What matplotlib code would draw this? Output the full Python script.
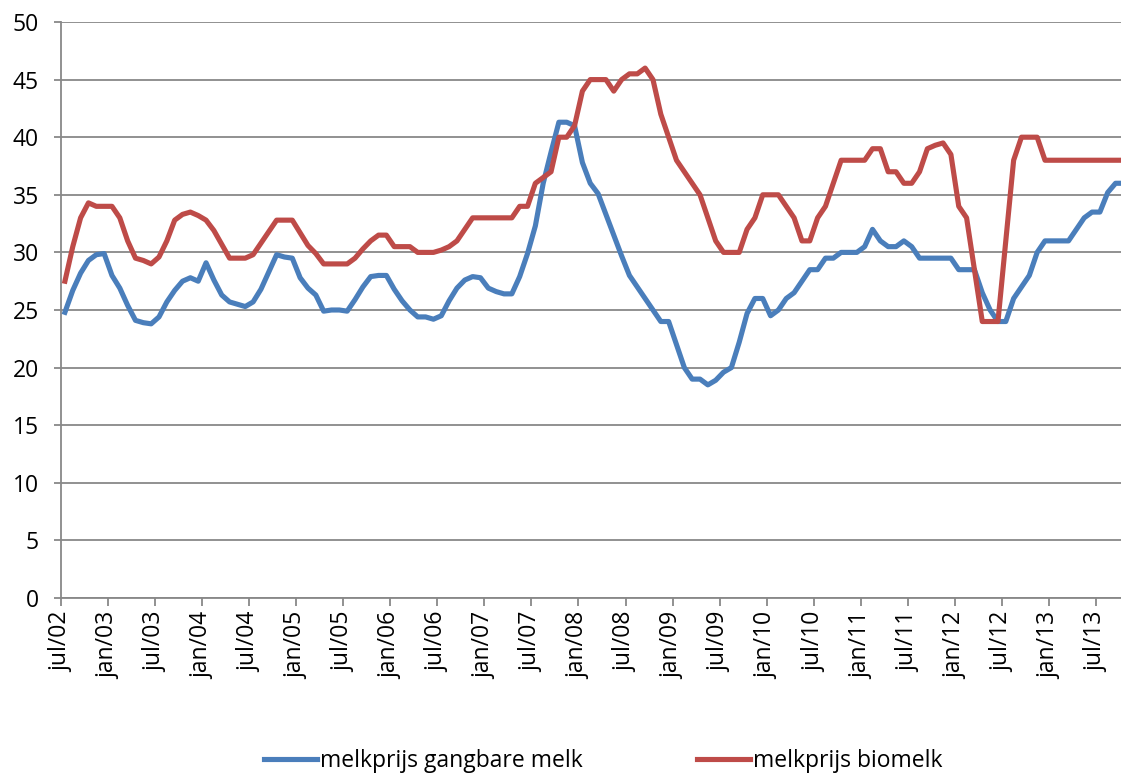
import matplotlib
matplotlib.use("Agg")
import matplotlib.pyplot as plt

plt.rcParams['font.family'] = ['Open Sans', 'DejaVu Sans']

# monthly prices, jul/02 .. oct/13
gangbaar = [24.8, 26.7, 28.2, 29.3, 29.8, 29.9, 28.0, 26.9, 25.4, 24.1,
            23.9, 23.8, 24.4, 25.7, 26.7, 27.5, 27.8, 27.5, 29.1, 27.6,
            26.3, 25.7, 25.5, 25.3, 25.7, 26.8, 28.3, 29.8, 29.6, 29.5,
            27.8, 26.9, 26.3, 24.9, 25.0, 25.0, 24.9, 25.9, 27.0, 27.9,
            28.0, 28.0, 26.8, 25.8, 25.0, 24.4, 24.4, 24.2, 24.5, 25.8,
            26.9, 27.6, 27.9, 27.8, 26.9, 26.6, 26.4, 26.4, 27.9, 29.9,
            32.3, 36.0, 38.7, 41.3, 41.3, 41.0, 37.8, 36.0, 35.1, 33.3,
            31.5, 29.7, 28.0, 27.0, 26.0, 25.0, 24.0, 24.0, 22.0, 20.0,
            19.0, 19.0, 18.5, 18.9, 19.6, 20.0, 22.2, 24.7, 26.0, 26.0,
            24.5, 25.0, 26.0, 26.5, 27.5, 28.5, 28.5, 29.5, 29.5, 30.0,
            30.0, 30.0, 30.5, 32.0, 31.0, 30.5, 30.5, 31.0, 30.5, 29.5,
            29.5, 29.5, 29.5, 29.5, 28.5, 28.5, 28.5, 26.5, 25.0, 24.0,
            24.0, 26.0, 27.0, 28.0, 30.0, 31.0, 31.0, 31.0, 31.0, 32.0,
            33.0, 33.5, 33.5, 35.2, 36.0, 36.0]
bio = [27.5, 30.5, 33.0, 34.3, 34.0, 34.0, 34.0, 33.0, 31.0, 29.5,
       29.3, 29.0, 29.6, 31.0, 32.8, 33.3, 33.5, 33.2, 32.8, 31.9,
       30.7, 29.5, 29.5, 29.5, 29.8, 30.8, 31.8, 32.8, 32.8, 32.8,
       31.7, 30.6, 29.9, 29.0, 29.0, 29.0, 29.0, 29.5, 30.3, 31.0,
       31.5, 31.5, 30.5, 30.5, 30.5, 30.0, 30.0, 30.0, 30.2, 30.5,
       31.0, 32.0, 33.0, 33.0, 33.0, 33.0, 33.0, 33.0, 34.0, 34.0,
       36.0, 36.5, 37.0, 40.0, 40.0, 41.0, 44.0, 45.0, 45.0, 45.0,
       44.0, 45.0, 45.5, 45.5, 46.0, 45.0, 42.0, 40.0, 38.0, 37.0,
       36.0, 35.0, 33.0, 31.0, 30.0, 30.0, 30.0, 32.0, 33.0, 35.0,
       35.0, 35.0, 34.0, 33.0, 31.0, 31.0, 33.0, 34.0, 36.0, 38.0,
       38.0, 38.0, 38.0, 39.0, 39.0, 37.0, 37.0, 36.0, 36.0, 37.0,
       39.0, 39.3, 39.5, 38.5, 34.0, 33.0, 28.5, 24.0, 24.0, 24.0,
       31.0, 38.0, 40.0, 40.0, 40.0, 38.0, 38.0, 38.0, 38.0, 38.0,
       38.0, 38.0, 38.0, 38.0, 38.0, 38.0]

tick_labels = ['jul/02', 'jan/03', 'jul/03', 'jan/04', 'jul/04', 'jan/05',
               'jul/05', 'jan/06', 'jul/06', 'jan/07', 'jul/07', 'jan/08',
               'jul/08', 'jan/09', 'jul/09', 'jan/10', 'jul/10', 'jan/11',
               'jul/11', 'jan/12', 'jul/12', 'jan/13', 'jul/13']

blue = '#4A7EBB'
red = '#BE4B48'
grid = '#888888'
fs = 16.5

fig = plt.figure(figsize=(11.21, 7.73), dpi=100)
ax = fig.add_axes([61 / 1121, 1 - 598 / 773, 1 - 61 / 1121, 576 / 773])

x = list(range(len(gangbaar)))
ax.plot(x, gangbaar, color=blue, lw=3.7, solid_joinstyle='round',
        label='melkprijs gangbare melk', zorder=3)
ax.plot(x, bio, color=red, lw=3.7, solid_joinstyle='round',
        label='melkprijs biomelk', zorder=3)

ax.set_ylim(0, 50)
ax.set_yticks(range(0, 51, 5))
ax.set_xlim(-0.5, (1121 - 65) / 7.84)
ax.set_xticks([-0.5 + 6 * k for k in range(len(tick_labels))])
ax.set_xticklabels(tick_labels, rotation=90, fontsize=fs)
ax.tick_params(axis='y', labelsize=fs, length=5, color=grid, width=1.3, pad=11)
ax.tick_params(axis='x', length=6, color=grid, width=1.3, pad=4)

ax.yaxis.grid(True, color=grid, lw=1.3)
ax.set_axisbelow(True)
for s in ['top', 'right']:
    ax.spines[s].set_visible(False)
for s in ['left', 'bottom']:
    ax.spines[s].set_color(grid)
    ax.spines[s].set_linewidth(1.3)

# legend sits a bit right of centre in the original (chart is cropped)
fig.legend(loc='center', bbox_to_anchor=(603 / 1121, 12 / 773), ncol=2,
           frameon=False, fontsize=fs, handlelength=2.3, handletextpad=0.13,
           columnspacing=5.0)

fig.savefig('out.png', dpi=100)
